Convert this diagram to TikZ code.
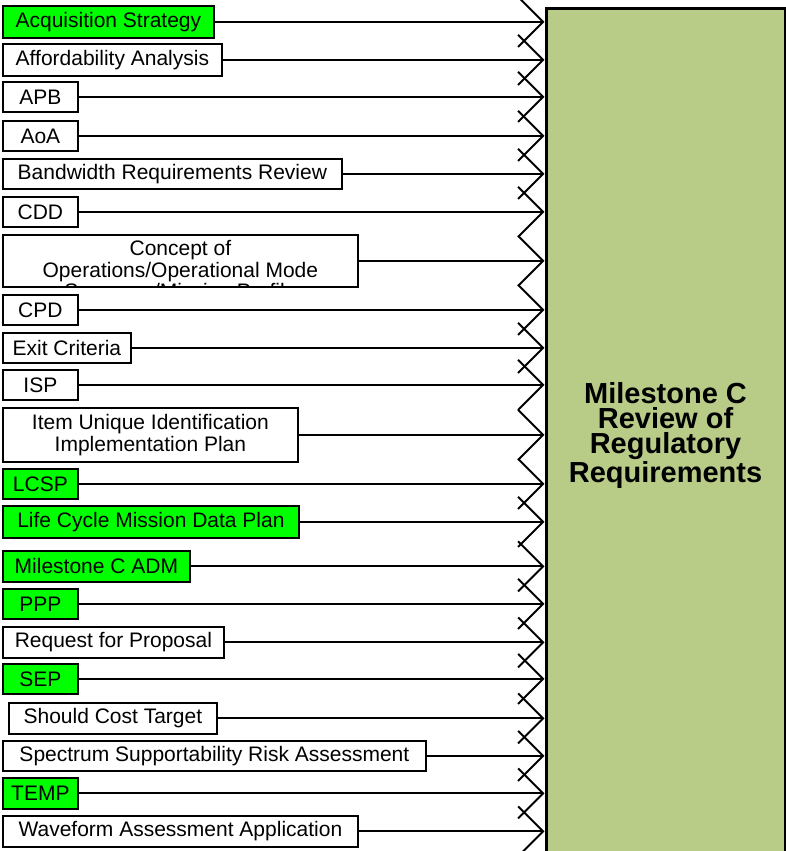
\documentclass[tikz,border=0pt]{standalone}
\usepackage{fontspec}
\setmainfont{Liberation Sans}
\usetikzlibrary{arrows.meta}
\definecolor{keyGreen}{RGB}{0,255,0}
\definecolor{reviewGreen}{RGB}{184,204,136}
\newcommand{\docFont}{\fontsize{21}{21.5}\selectfont}
\newcommand{\reviewFont}{\fontsize{29}{25}\selectfont\bfseries}
\tikzset{
  docBox/.style={draw, line width=1.8pt, fill=white, font=\docFont, inner sep=0pt, anchor=north west, align=center},
  keyBox/.style={docBox, fill=keyGreen},
  reviewBox/.style={draw, line width=3pt, fill=reviewGreen, font=\reviewFont, inner sep=0pt, anchor=north west, align=center},
  feed/.style={line width=2pt, -{Straight Barb[length=25pt, width=50pt]}},
}

\begin{document}
\begin{tikzpicture}[x=1pt,y=-1pt]
\useasboundingbox (0,0) rectangle (785,851);
\node[reviewBox, minimum width=239pt, minimum height=853pt] (req) at (544.5,7.5) {Milestone C\\Review of\\Regulatory\\Requirements};
\node[keyBox, minimum width=211pt, minimum height=32pt] (acq) at (2,5) {Acquisition Strategy};
\node[docBox, minimum width=219pt, minimum height=32pt] (aff) at (2,43) {Affordability Analysis};
\node[docBox, minimum width=75pt, minimum height=30pt] (apb) at (2,81) {APB};
\node[docBox, minimum width=75pt, minimum height=30pt] (aoa) at (2,120) {AoA};
\node[docBox, minimum width=339pt, minimum height=30pt] (bwr) at (2,158) {Bandwidth Requirements Review};
\node[docBox, minimum width=75pt, minimum height=30pt] (cdd) at (2,196) {CDD};
\node[docBox, minimum width=355pt, minimum height=52pt, path picture={
  \node[font=\docFont, align=center, anchor=north, inner sep=0pt] at ([yshift=-5pt]path picture bounding box.north) {Concept of\\Operations/Operational Mode\\Summary/Mission Profile};
}] (conops) at (2,234) {};
\node[docBox, minimum width=75pt, minimum height=30pt] (cpd) at (2,294) {CPD};
\node[docBox, minimum width=128pt, minimum height=30pt] (exit) at (2,332) {Exit Criteria};
\node[docBox, minimum width=75pt, minimum height=30pt] (isp) at (2,369) {ISP};
\node[docBox, minimum width=295pt, minimum height=54pt] (iuid) at (2,407) {Item Unique Identification\\Implementation Plan};
\node[keyBox, minimum width=75pt, minimum height=30pt] (lcsp) at (2,468) {LCSP};
\node[keyBox, minimum width=296pt, minimum height=32pt] (lcmdp) at (2,505) {Life Cycle Mission Data Plan};
\node[keyBox, minimum width=187pt, minimum height=31pt] (adm) at (2,550) {Milestone C ADM};
\node[keyBox, minimum width=75pt, minimum height=30pt] (ppp) at (2,588) {PPP};
\node[docBox, minimum width=221pt, minimum height=31pt] (rfp) at (2,626) {Request for Proposal};
\node[keyBox, minimum width=75pt, minimum height=30pt] (sep) at (2,663) {SEP};
\node[docBox, minimum width=208pt, minimum height=31pt] (sct) at (8,702) {Should Cost Target};
\node[docBox, minimum width=423pt, minimum height=30pt] (ssra) at (2,740) {Spectrum Supportability Risk Assessment};
\node[keyBox, minimum width=75pt, minimum height=31pt] (temp) at (2,777) {TEMP};
\node[docBox, minimum width=355pt, minimum height=31pt] (waa) at (2,815) {Waveform Assessment Application};
\draw[feed] (acq.east) -- (acq.east -| req.west);
\draw[feed] (aff.east) -- (aff.east -| req.west);
\draw[feed] (apb.east) -- (apb.east -| req.west);
\draw[feed] (aoa.east) -- (aoa.east -| req.west);
\draw[feed] (bwr.east) -- (bwr.east -| req.west);
\draw[feed] (cdd.east) -- (cdd.east -| req.west);
\draw[feed] (conops.east) -- (conops.east -| req.west);
\draw[feed] (cpd.east) -- (cpd.east -| req.west);
\draw[feed] (exit.east) -- (exit.east -| req.west);
\draw[feed] (isp.east) -- (isp.east -| req.west);
\draw[feed] (iuid.east) -- (iuid.east -| req.west);
\draw[feed] (lcsp.east) -- (lcsp.east -| req.west);
\draw[feed] (lcmdp.east) -- (lcmdp.east -| req.west);
\draw[feed] (adm.east) -- (adm.east -| req.west);
\draw[feed] (ppp.east) -- (ppp.east -| req.west);
\draw[feed] (rfp.east) -- (rfp.east -| req.west);
\draw[feed] (sep.east) -- (sep.east -| req.west);
\draw[feed] (sct.east) -- (sct.east -| req.west);
\draw[feed] (ssra.east) -- (ssra.east -| req.west);
\draw[feed] (temp.east) -- (temp.east -| req.west);
\draw[feed] (waa.east) -- (waa.east -| req.west);
\end{tikzpicture}
\end{document}
